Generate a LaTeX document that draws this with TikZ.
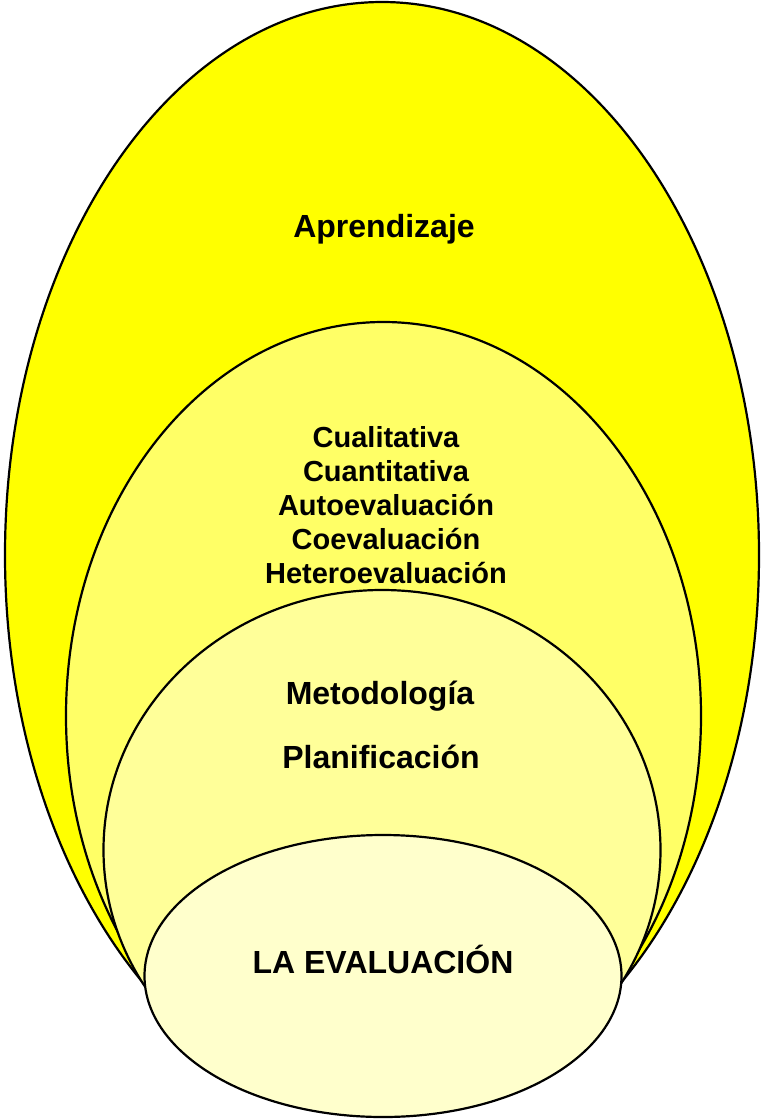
\documentclass[tikz,border=0pt]{standalone}
\usepackage{fontspec}
\setmainfont{Liberation Sans}

\definecolor{amarillo}{RGB}{255,255,0}
\definecolor{amarilloB}{RGB}{255,255,102}
\definecolor{amarilloC}{RGB}{255,255,153}
\definecolor{amarilloD}{RGB}{255,255,204}

\tikzset{
	zona/.style={draw=black, line width=2.2pt},
	etiqueta/.style={font=\bfseries\fontsize{32}{34}\selectfont, inner sep=0pt, anchor=base}
}

\begin{document}
\begin{tikzpicture}[x=1pt, y=-1pt]
	\useasboundingbox (0,0) rectangle (762,1120);
	
	% nested zones, outer to inner
	\path[zona, fill=amarillo] (382,555) ellipse [x radius=377, y radius=553];
	\path[zona, fill=amarilloB] (383.5,716) ellipse [x radius=317.5, y radius=394];
	\path[zona, fill=amarilloC] (382,850) ellipse [x radius=278.5, y radius=260];
	\path[zona, fill=amarilloD] (383,976) ellipse [x radius=238.5, y radius=141];
	
	\node[etiqueta] (txtAprendizaje) at (384,237) {Aprendizaje};
	\node[etiqueta, align=center, font=\bfseries\fontsize{29}{34}\selectfont] (txtTipos) at (386,583) {Cualitativa\\Cuantitativa\\Autoevaluación\\Coevaluación\\Heteroevaluación};
	\node[etiqueta] (txtMetodologia) at (380,704) {Metodología};
	\node[etiqueta] (txtPlanificacion) at (381,768) {Planificación};
	\node[etiqueta] (txtEvaluacion) at (383,973) {LA EVALUACIÓN};
\end{tikzpicture}
\end{document}
